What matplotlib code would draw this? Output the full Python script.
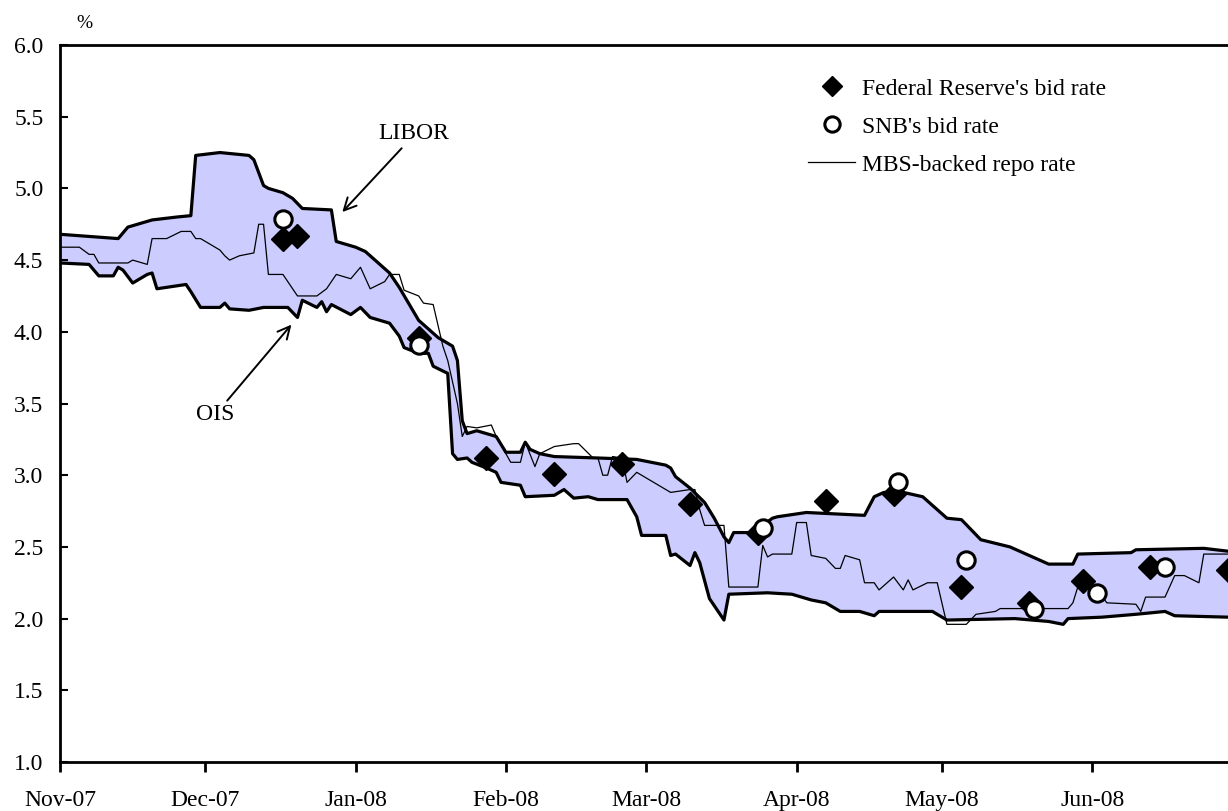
import numpy as np
import pandas as pd
import matplotlib
matplotlib.use("Agg")
import matplotlib.pyplot as plt
import matplotlib.dates as mdates
from matplotlib.lines import Line2D

plt.rcParams['font.family'] = ['Liberation Serif', 'DejaVu Serif']

# LIBOR (upper edge of band)
libor_dates = ["2007-11-01", "2007-11-13", "2007-11-15", "2007-11-20", "2007-11-25", "2007-11-28",
               "2007-11-29", "2007-12-04", "2007-12-10", "2007-12-11", "2007-12-13", "2007-12-14",
               "2007-12-17", "2007-12-19", "2007-12-21", "2007-12-27", "2007-12-28", "2008-01-01",
               "2008-01-03", "2008-01-08", "2008-01-10", "2008-01-14", "2008-01-18", "2008-01-21",
               "2008-01-22", "2008-01-23", "2008-01-24", "2008-01-26", "2008-01-30", "2008-02-01",
               "2008-02-04", "2008-02-05", "2008-02-06", "2008-02-08", "2008-02-11", "2008-02-20",
               "2008-02-28", "2008-03-05", "2008-03-06", "2008-03-07", "2008-03-10", "2008-03-13",
               "2008-03-15", "2008-03-17", "2008-03-18", "2008-03-19", "2008-03-23", "2008-03-27",
               "2008-03-28", "2008-04-03", "2008-04-15", "2008-04-17", "2008-04-19", "2008-04-23",
               "2008-04-27", "2008-04-30", "2008-05-02", "2008-05-05", "2008-05-09", "2008-05-15",
               "2008-05-21", "2008-05-23", "2008-05-28", "2008-05-29", "2008-06-09", "2008-06-10",
               "2008-06-24", "2008-06-29"]
libor = [4.68, 4.65, 4.73, 4.78, 4.80, 4.81,
         5.23, 5.25, 5.23, 5.20, 5.02, 5.00,
         4.97, 4.93, 4.86, 4.85, 4.63, 4.59,
         4.56, 4.41, 4.31, 4.08, 3.96, 3.90,
         3.80, 3.38, 3.29, 3.31, 3.27, 3.16,
         3.16, 3.23, 3.18, 3.15, 3.13, 3.12,
         3.11, 3.07, 3.05, 2.99, 2.91, 2.81,
         2.70, 2.57, 2.53, 2.60, 2.60, 2.70,
         2.71, 2.74, 2.72, 2.85, 2.88, 2.88,
         2.85, 2.76, 2.70, 2.69, 2.55, 2.50,
         2.41, 2.38, 2.38, 2.45, 2.46, 2.48,
         2.49, 2.47]

# OIS (lower edge of band)
ois_dates = ["2007-11-01", "2007-11-07", "2007-11-09", "2007-11-12", "2007-11-13", "2007-11-14",
             "2007-11-16", "2007-11-19", "2007-11-20", "2007-11-21", "2007-11-23", "2007-11-27",
             "2007-11-28", "2007-11-30", "2007-12-04", "2007-12-05", "2007-12-06", "2007-12-10",
             "2007-12-13", "2007-12-18", "2007-12-20", "2007-12-21", "2007-12-24", "2007-12-25",
             "2007-12-26", "2007-12-27", "2007-12-31", "2008-01-02", "2008-01-04", "2008-01-08",
             "2008-01-10", "2008-01-11", "2008-01-14", "2008-01-16", "2008-01-17", "2008-01-20",
             "2008-01-21", "2008-01-22", "2008-01-24", "2008-01-25", "2008-01-28", "2008-01-30",
             "2008-01-31", "2008-02-04", "2008-02-05", "2008-02-11", "2008-02-13", "2008-02-15",
             "2008-02-18", "2008-02-20", "2008-02-26", "2008-02-28", "2008-02-29", "2008-03-05",
             "2008-03-06", "2008-03-07", "2008-03-10", "2008-03-11", "2008-03-12", "2008-03-14",
             "2008-03-17", "2008-03-18", "2008-03-26", "2008-03-31", "2008-04-04", "2008-04-07",
             "2008-04-10", "2008-04-14", "2008-04-17", "2008-04-18", "2008-04-21", "2008-04-29",
             "2008-05-02", "2008-05-16", "2008-05-23", "2008-05-26", "2008-05-27", "2008-06-03",
             "2008-06-10", "2008-06-16", "2008-06-18", "2008-06-29"]
ois = [4.48, 4.47, 4.39, 4.39, 4.45, 4.43,
       4.34, 4.40, 4.41, 4.30, 4.31, 4.33,
       4.28, 4.17, 4.17, 4.20, 4.16, 4.15,
       4.17, 4.17, 4.10, 4.22, 4.17, 4.21,
       4.14, 4.19, 4.12, 4.17, 4.10, 4.06,
       3.97, 3.89, 3.85, 3.85, 3.76, 3.71,
       3.15, 3.11, 3.12, 3.09, 3.05, 3.02,
       2.95, 2.93, 2.85, 2.86, 2.90, 2.84,
       2.85, 2.83, 2.83, 2.71, 2.58, 2.58,
       2.44, 2.45, 2.37, 2.46, 2.39, 2.14,
       1.99, 2.17, 2.18, 2.17, 2.13, 2.11,
       2.05, 2.05, 2.02, 2.05, 2.05, 2.05,
       1.99, 2.00, 1.98, 1.96, 2.00, 2.01,
       2.03, 2.05, 2.02, 2.01]

# MBS-backed repo rate
repo_dates = ["2007-11-01", "2007-11-05", "2007-11-07", "2007-11-08", "2007-11-09", "2007-11-15",
              "2007-11-16", "2007-11-19", "2007-11-20", "2007-11-23", "2007-11-26", "2007-11-28",
              "2007-11-29", "2007-11-30", "2007-12-04", "2007-12-05", "2007-12-06", "2007-12-08",
              "2007-12-11", "2007-12-12", "2007-12-13", "2007-12-14", "2007-12-17", "2007-12-20",
              "2007-12-24", "2007-12-26", "2007-12-28", "2007-12-31", "2008-01-02", "2008-01-04",
              "2008-01-07", "2008-01-08", "2008-01-10", "2008-01-11", "2008-01-14", "2008-01-15",
              "2008-01-17", "2008-01-19", "2008-01-20", "2008-01-22", "2008-01-23", "2008-01-24",
              "2008-01-26", "2008-01-29", "2008-01-30", "2008-02-01", "2008-02-02", "2008-02-04",
              "2008-02-05", "2008-02-07", "2008-02-08", "2008-02-11", "2008-02-15", "2008-02-16",
              "2008-02-19", "2008-02-20", "2008-02-21", "2008-02-22", "2008-02-23", "2008-02-25",
              "2008-02-26", "2008-02-28", "2008-03-05", "2008-03-06", "2008-03-10", "2008-03-11",
              "2008-03-12", "2008-03-13", "2008-03-17", "2008-03-18", "2008-03-24", "2008-03-25",
              "2008-03-26", "2008-03-27", "2008-03-31", "2008-04-01", "2008-04-03", "2008-04-04",
              "2008-04-07", "2008-04-09", "2008-04-10", "2008-04-11", "2008-04-14", "2008-04-15",
              "2008-04-17", "2008-04-18", "2008-04-21", "2008-04-23", "2008-04-24", "2008-04-25",
              "2008-04-28", "2008-04-30", "2008-05-02", "2008-05-06", "2008-05-08", "2008-05-12",
              "2008-05-13", "2008-05-27", "2008-05-28", "2008-05-29", "2008-06-02", "2008-06-04",
              "2008-06-10", "2008-06-11", "2008-06-12", "2008-06-16", "2008-06-18", "2008-06-20",
              "2008-06-23", "2008-06-24", "2008-06-29"]
repo = [4.59, 4.59, 4.54, 4.54, 4.48, 4.48,
        4.50, 4.47, 4.65, 4.65, 4.70, 4.70,
        4.65, 4.65, 4.57, 4.53, 4.50, 4.53,
        4.55, 4.75, 4.75, 4.40, 4.40, 4.25,
        4.25, 4.30, 4.40, 4.37, 4.45, 4.30,
        4.35, 4.40, 4.40, 4.29, 4.25, 4.20,
        4.19, 3.90, 3.80, 3.50, 3.27, 3.34,
        3.33, 3.35, 3.27, 3.15, 3.09, 3.09,
        3.23, 3.06, 3.15, 3.20, 3.22, 3.22,
        3.12, 3.12, 3.00, 3.00, 3.13, 3.12,
        2.95, 3.02, 2.90, 2.88, 2.90, 2.90,
        2.76, 2.65, 2.65, 2.22, 2.22, 2.51,
        2.43, 2.45, 2.45, 2.67, 2.67, 2.44,
        2.42, 2.35, 2.35, 2.44, 2.41, 2.25,
        2.25, 2.20, 2.29, 2.20, 2.27, 2.20,
        2.25, 2.25, 1.96, 1.96, 2.03, 2.05,
        2.07, 2.07, 2.11, 2.22, 2.20, 2.11,
        2.10, 2.05, 2.15, 2.15, 2.30, 2.30,
        2.25, 2.45, 2.45]

# central bank auction results
fed_dates = ["2007-12-17", "2007-12-20", "2008-01-14", "2008-01-28", "2008-02-11", "2008-02-25",
             "2008-03-10", "2008-03-24", "2008-04-07", "2008-04-21", "2008-05-05", "2008-05-19",
             "2008-05-30", "2008-06-13", "2008-06-29"]
fed_bid = [4.65, 4.67, 3.96, 3.12, 3.01, 3.08,
           2.80, 2.60, 2.82, 2.87, 2.22, 2.11,
           2.26, 2.36, 2.34]
snb_dates = ["2007-12-17", "2008-01-14", "2008-03-25", "2008-04-22", "2008-05-06", "2008-05-20",
             "2008-06-02", "2008-06-16"]
snb_bid = [4.79, 3.91, 2.63, 2.95, 2.41, 2.07,
           2.18, 2.36]

month_ticks = pd.date_range("2007-11-01", "2008-06-01", freq="MS")

fig = plt.figure(figsize=(12.28, 8.11), dpi=100)
ax = fig.add_axes([60 / 1228, 1 - 762 / 811, 1168 / 1228, 717 / 811])

lx = mdates.date2num(pd.to_datetime(libor_dates))
ox = mdates.date2num(pd.to_datetime(ois_dates))
rx = mdates.date2num(pd.to_datetime(repo_dates))

# band between LIBOR and OIS
ax.fill(np.concatenate([lx, ox[::-1]]), np.concatenate([libor, ois[::-1]]),
        color='#ccccff', lw=0, zorder=1)
ax.plot(rx, repo, color='black', lw=0.9, zorder=2)
ax.plot(lx, libor, color='black', lw=2.3, zorder=3, solid_joinstyle='round')
ax.plot(ox, ois, color='black', lw=2.3, zorder=3, solid_joinstyle='round')

ax.plot(mdates.date2num(pd.to_datetime(fed_dates)), fed_bid, 'D', color='black',
        ms=12.5, zorder=4)
ax.plot(mdates.date2num(pd.to_datetime(snb_dates)), snb_bid, 'o', mfc='white', mec='black',
        mew=2.2, ms=12.5, zorder=5)

# annotations
ax.text(mdates.datestr2num("2008-01-13"), 5.38, "LIBOR", ha='center', va='center', fontsize=17)
ax.annotate("", xy=(mdates.datestr2num("2007-12-29 06:00"), 4.835),
            xytext=(mdates.datestr2num("2008-01-10 12:00"), 5.28),
            arrowprops=dict(arrowstyle='->', lw=1.4, mutation_scale=22, shrinkA=0, shrinkB=0))
ax.text(mdates.datestr2num("2007-12-03"), 3.42, "OIS", ha='center', va='center', fontsize=17)
ax.annotate("", xy=(mdates.datestr2num("2007-12-18 18:00"), 4.05),
            xytext=(mdates.datestr2num("2007-12-05 12:00"), 3.52),
            arrowprops=dict(arrowstyle='->', lw=1.4, mutation_scale=22, shrinkA=0, shrinkB=0))

ax.set_xlim(mdates.datestr2num("2007-11-01"), mdates.datestr2num("2008-06-29"))
ax.set_ylim(1.0, 6.0)
ax.set_yticks(np.arange(1.0, 6.01, 0.5))
ax.set_yticklabels(["%.1f" % v for v in np.arange(1.0, 6.01, 0.5)])
ax.set_xticks(mdates.date2num(month_ticks))
ax.set_xticklabels([d.strftime("%b-%y") for d in month_ticks])

ax.tick_params(axis='y', direction='in', length=6, width=1.5, labelsize=17, pad=12)
ax.tick_params(axis='x', direction='out', length=7, width=2, labelsize=17, pad=13)
for s in ['left', 'bottom', 'top']:
    ax.spines[s].set_linewidth(2)
ax.spines['right'].set_visible(False)

fig.text(84 / 1228, 1 - 23 / 811, "%", ha='center', va='center', fontsize=14)

handles = [Line2D([], [], ls='none', marker='D', color='black', ms=10.5),
           Line2D([], [], ls='none', marker='o', mfc='white', mec='black', mew=2.2, ms=11),
           Line2D([], [], color='black', lw=0.9)]
labels = ["Federal Reserve's bid rate", "SNB's bid rate", "MBS-backed repo rate"]
ax.legend(handles, labels, loc='upper left', bbox_to_anchor=(808 / 1228, 1 - 78 / 811),
          bbox_transform=fig.transFigure, frameon=False, fontsize=17, handlelength=2.0,
          handletextpad=0.3, labelspacing=0.7, borderpad=0, borderaxespad=0)

fig.savefig("out.png", dpi=100)
